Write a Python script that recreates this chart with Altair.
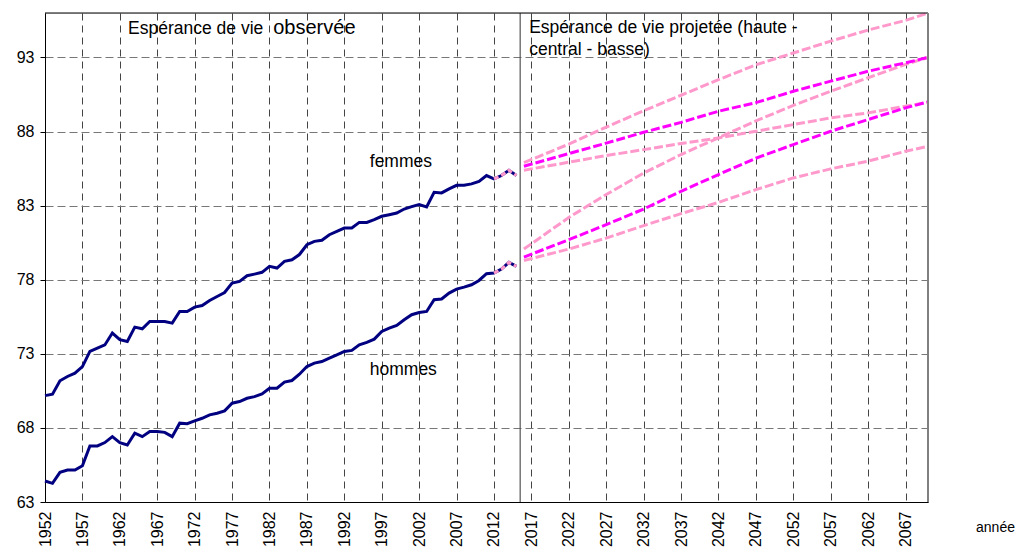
import altair as alt
import pandas as pd

# ---- data ----
years_obs = list(range(1952, 2016))
femmes_obs = [70.18, 70.28, 71.18, 71.47, 71.69, 72.14, 73.16, 73.38, 73.60, 74.40,
              73.95, 73.83, 74.80, 74.69, 75.18, 75.18, 75.18, 75.07, 75.86, 75.86,
              76.15, 76.26, 76.60, 76.87, 77.14, 77.77, 77.89, 78.27, 78.38, 78.50,
              78.90, 78.79, 79.24, 79.35, 79.70, 80.36, 80.59, 80.66, 81.04, 81.26,
              81.49, 81.49, 81.87, 81.87, 82.05, 82.28, 82.39, 82.50, 82.77, 82.93,
              83.07, 82.91, 83.90, 83.86, 84.13, 84.37, 84.37, 84.47, 84.64, 85.03,
              84.80, 85.03, 85.39, 85.03]
hommes_obs = [64.42, 64.26, 65.00, 65.16, 65.16, 65.45, 66.78, 66.78, 67.01, 67.41,
              67.01, 66.85, 67.64, 67.41, 67.75, 67.75, 67.70, 67.41, 68.32, 68.28,
              68.47, 68.65, 68.88, 68.99, 69.15, 69.67, 69.78, 70.00, 70.11, 70.30,
              70.68, 70.68, 71.09, 71.20, 71.62, 72.14, 72.37, 72.48, 72.71, 72.93,
              73.16, 73.23, 73.61, 73.77, 73.99, 74.51, 74.73, 74.91, 75.30, 75.64,
              75.79, 75.86, 76.65, 76.70, 77.10, 77.37, 77.50, 77.66, 77.95, 78.41,
              78.45, 78.72, 79.17, 78.90]
provisional_from = 2012

proj_years = [2016, 2022, 2027, 2032, 2037, 2042, 2047, 2052, 2057, 2062, 2067, 2070]
femmes_haute = [85.90, 87.15, 88.30, 89.40, 90.45, 91.50, 92.50, 93.30, 94.10, 94.85, 95.50, 96.00]
femmes_centrale = [85.66, 86.51, 87.22, 87.95, 88.62, 89.37, 89.95, 90.72, 91.40, 92.07, 92.64, 93.00]
femmes_basse = [85.39, 85.93, 86.38, 86.78, 87.19, 87.57, 88.02, 88.47, 88.92, 89.26, 89.71, 89.98]
hommes_haute = [80.07, 82.20, 83.75, 85.20, 86.45, 87.58, 88.72, 89.76, 90.72, 91.63, 92.53, 93.00]
hommes_centrale = [79.53, 80.70, 81.72, 82.77, 83.97, 85.10, 86.20, 87.12, 88.02, 88.81, 89.60, 90.00]
hommes_basse = [79.30, 80.07, 80.81, 81.65, 82.46, 83.22, 84.08, 84.87, 85.48, 86.00, 86.67, 87.00]

x_ticks = list(range(1952, 2068, 5))
y_ticks = [63, 68, 73, 78, 83, 88, 93]
x_domain = [1952, 2070]
y_domain = [63, 96]
separation_year = 2015.5

# ---- tables ----
n = len(years_obs)
obs = pd.DataFrame({
    "annee": years_obs * 2,
    "valeur": femmes_obs + hommes_obs,
    "serie": ["femmes"] * n + ["hommes"] * n,
})
prov = obs[obs["annee"] >= provisional_from]

m = len(proj_years)
central = pd.DataFrame({
    "annee": proj_years * 2,
    "valeur": femmes_centrale + hommes_centrale,
    "serie": ["femmes"] * m + ["hommes"] * m,
})
hautebasse = pd.DataFrame({
    "annee": proj_years * 4,
    "valeur": femmes_haute + femmes_basse + hommes_haute + hommes_basse,
    "serie": ["fh"] * m + ["fb"] * m + ["hh"] * m + ["hb"] * m,
})

W, H = 883, 489
FONT = "Liberation Sans"

x_enc = alt.X(
    "annee:Q",
    scale=alt.Scale(domain=x_domain, nice=False, zero=False),
    axis=alt.Axis(
        values=x_ticks, tickCount=100, format="d", labelAngle=270, labelFontSize=16,
        labelColor="#000", labelFont=FONT, labelPadding=9,
        ticks=False, tickSize=0, domainColor="#000", domainWidth=1,
        grid=True, gridColor="#444", gridDash=[7, 5], gridWidth=1,
        title="année", titleFont=FONT, titleFontSize=14, titleFontWeight="normal",
        titleColor="#000", titleX=950, titleY=25, titleAlign="center",
        titleBaseline="middle", titleAngle=0, labelOverlap=False,
        labelBound=False, labelFlush=False,
    ),
)
y_enc = alt.Y(
    "valeur:Q",
    scale=alt.Scale(domain=y_domain, nice=False, zero=False),
    axis=alt.Axis(
        values=y_ticks, tickCount=100, format="d", labelFontSize=16, labelColor="#000",
        labelFont=FONT, labelPadding=6, ticks=True, tickSize=5, tickColor="#000",
        domainColor="#000", domainWidth=1,
        grid=True, gridColor="#777", gridDash=[8, 4], gridWidth=1,
        title=None, labelOverlap=False,
    ),
)

obs_lines = alt.Chart(obs).mark_line(color="#000080", strokeWidth=3).encode(
    x=x_enc, y=y_enc, detail="serie:N")
prov_lines = alt.Chart(prov).mark_line(color="#FF99CC", strokeWidth=3, strokeDash=[5, 3]).encode(
    x=x_enc, y=y_enc, detail="serie:N")
hb_lines = alt.Chart(hautebasse).mark_line(color="#FF99CC", strokeWidth=3, strokeDash=[9, 3]).encode(
    x=x_enc, y=y_enc, detail="serie:N")
c_lines = alt.Chart(central).mark_line(color="#FF00FF", strokeWidth=3, strokeDash=[9, 3]).encode(
    x=x_enc, y=y_enc, detail="serie:N")

sep = alt.Chart().mark_rule(color="#555", strokeWidth=1.2).encode(x=alt.datum(separation_year))
top_border = alt.Chart().mark_rule(color="#000", strokeWidth=1).encode(y=alt.datum(y_domain[1]))
right_border = alt.Chart().mark_rule(color="#808080", strokeWidth=2).encode(x=alt.datum(x_domain[1]))


def label(txt, xv, yv, size=17.5):
    return alt.Chart().mark_text(
        text=txt, font=FONT, fontSize=size, color="#000", align="left", baseline="alphabetic"
    ).encode(x=alt.datum(xv), y=alt.datum(yv))


texts = [
    label("Espérance de vie", 1963.1, 94.55),
    label("observée", 1982.5, 94.55, 20),
    label("Espérance de vie projetée (haute -", 2016.7, 94.64),
    label("central - basse)", 2016.7, 93.15),
    label("femmes", 1995.4, 85.6),
    label("hommes", 1995.4, 71.55),
]

chart = alt.layer(
    obs_lines, prov_lines, hb_lines, c_lines, sep, top_border, right_border, *texts
).properties(
    width=W, height=H,
    autosize=alt.AutoSizeParams(type="none"),
    padding={"left": 37, "top": 5, "right": 87, "bottom": 46},
).configure_view(stroke=None).configure(font=FONT)

chart.save("out.html", embed_options={"renderer": "svg", "actions": False})
